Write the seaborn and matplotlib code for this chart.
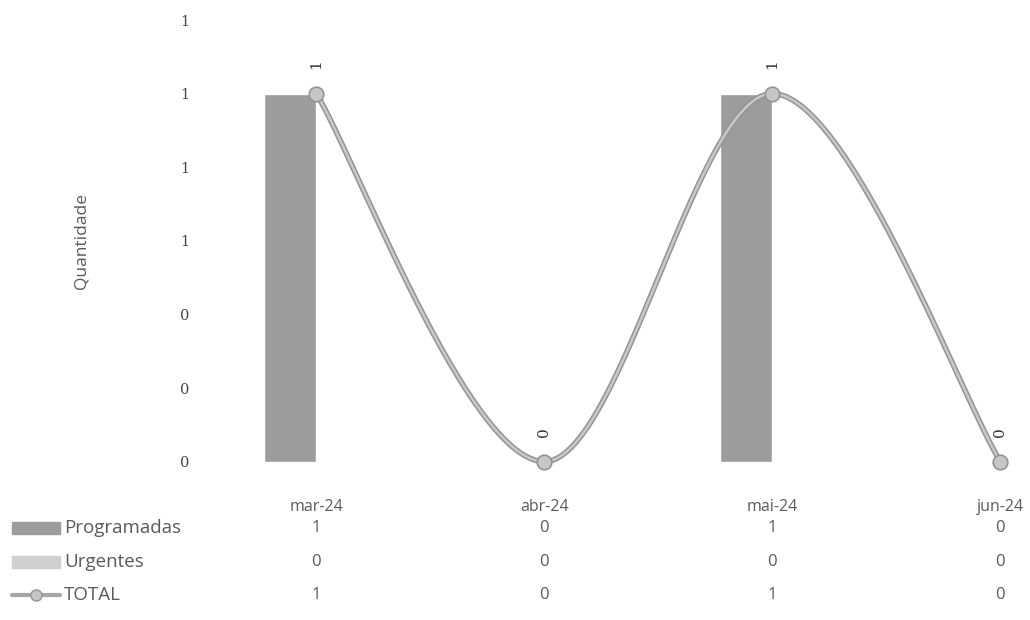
import matplotlib.pyplot as plt
import numpy as np
import pandas as pd
import seaborn as sns
from matplotlib.lines import Line2D
from matplotlib.patches import Rectangle

sns.set_style("white")
plt.rcParams["font.family"] = ["Open Sans", "DejaVu Sans"]

months = ["mar-24", "abr-24", "mai-24", "jun-24"]
programadas = [1, 0, 1, 0]
urgentes = [0, 0, 0, 0]
total = [1, 0, 1, 0]
yticks = [0, 0.2, 0.4, 0.6, 0.8, 1.0, 1.2]

TEXT = "#5a5a5a"
C_PROG = "#9c9c9c"
C_URG = "#cfcfcf"
C_LINE = "#a6a6a6"

df = pd.DataFrame({
    "Mes": months * 2,
    "Serie": ["Programadas"] * 4 + ["Urgentes"] * 4,
    "Valor": programadas + urgentes,
})


def excel_smooth(xs, ys, n=60):
    # bezier smoothing like Excel "smoothed line"
    p = np.column_stack([xs, ys]).astype(float)
    pts = np.vstack([p[0], p, p[-1]])
    out = []
    for i in range(1, len(pts) - 2):
        p0, p1, p2, p3 = pts[i - 1], pts[i], pts[i + 1], pts[i + 2]
        c1 = p1 + (p2 - p0) / 6
        c2 = p2 - (p3 - p1) / 6
        t = np.linspace(0, 1, n)[:, None]
        seg = ((1 - t) ** 3) * p1 + 3 * ((1 - t) ** 2) * t * c1 + 3 * (1 - t) * t ** 2 * c2 + t ** 3 * p2
        out.append(seg)
    return np.vstack(out)


def fig_y(py):
    return 1 - py / 620


fig = plt.figure(figsize=(10.3, 6.2), dpi=100)
ax = fig.add_axes([200 / 1030, 1 - 480 / 620, 830 / 1030, 460 / 620])

sns.barplot(
    data=df, x="Mes", y="Valor", hue="Serie",
    palette=[C_PROG, C_URG], width=0.456, gap=0,
    ax=ax, legend=False, errorbar=None,
)

xs = np.arange(len(months))
curve = excel_smooth(xs, total)
ax.plot(curve[:, 0], curve[:, 1], color="#949494", lw=4.0, solid_capstyle="round", zorder=3)
ax.plot(curve[:, 0], curve[:, 1], color="#c8c8c8", lw=1.8, solid_capstyle="round", zorder=4)
ax.scatter(xs, total, s=110, color="#c6c6c6", edgecolor="#949494", linewidth=1.2, zorder=5)

for x, v in zip(xs, total):
    ax.annotate(str(v), (x, v), xytext=(0, 18), textcoords="offset points",
                rotation=90, ha="center", va="bottom", fontsize=11,
                color="#333333", family="DejaVu Serif")

ax.set_xlim(-0.51, 3.13)
ax.set_ylim(-0.05, 1.2)
ax.set_yticks(yticks)
ax.set_yticklabels([f"{v:.0f}" for v in yticks], family="DejaVu Serif",
                   fontsize=10.5, color="#444444")
ax.tick_params(axis="y", length=0, pad=8)
ax.set_xticks([])
ax.set_xlabel("")
ax.set_ylabel("Quantidade", fontsize=12.5, color=TEXT, labelpad=70)
ax.yaxis.set_label_coords(-110 / 830, 0.52)
sns.despine(ax=ax, left=True, bottom=True)

# data table below the chart
row_y = [507, 528, 562, 595]
for x, m, a, b, c in zip(xs, months, programadas, urgentes, total):
    px = ax.transData.transform((x, 0))[0] / 1030
    fig.text(px, fig_y(row_y[0]), m, ha="center", va="center", fontsize=11.5, color=TEXT)
    for py, v in zip(row_y[1:], [a, b, c]):
        fig.text(px, fig_y(py), str(v), ha="center", va="center", fontsize=12, color=TEXT)

labels = ["Programadas", "Urgentes", "TOTAL"]
for py, lab in zip(row_y[1:], labels):
    fig.text(64 / 1030, fig_y(py), lab, ha="left", va="center", fontsize=13.5, color=TEXT)

fig.add_artist(Rectangle((12 / 1030, fig_y(534)), 48 / 1030, 12 / 620,
                         transform=fig.transFigure, color=C_PROG))
fig.add_artist(Rectangle((12 / 1030, fig_y(568)), 48 / 1030, 12 / 620,
                         transform=fig.transFigure, color=C_URG))
fig.add_artist(Line2D([12 / 1030, 60 / 1030], [fig_y(595), fig_y(595)],
                      transform=fig.transFigure, color=C_LINE, lw=3))
fig.add_artist(Line2D([36 / 1030], [fig_y(595)], transform=fig.transFigure,
                      color="#c6c6c6", marker="o", markersize=8,
                      markeredgecolor="#949494", lw=0))

fig.savefig("out.png", dpi=100)
